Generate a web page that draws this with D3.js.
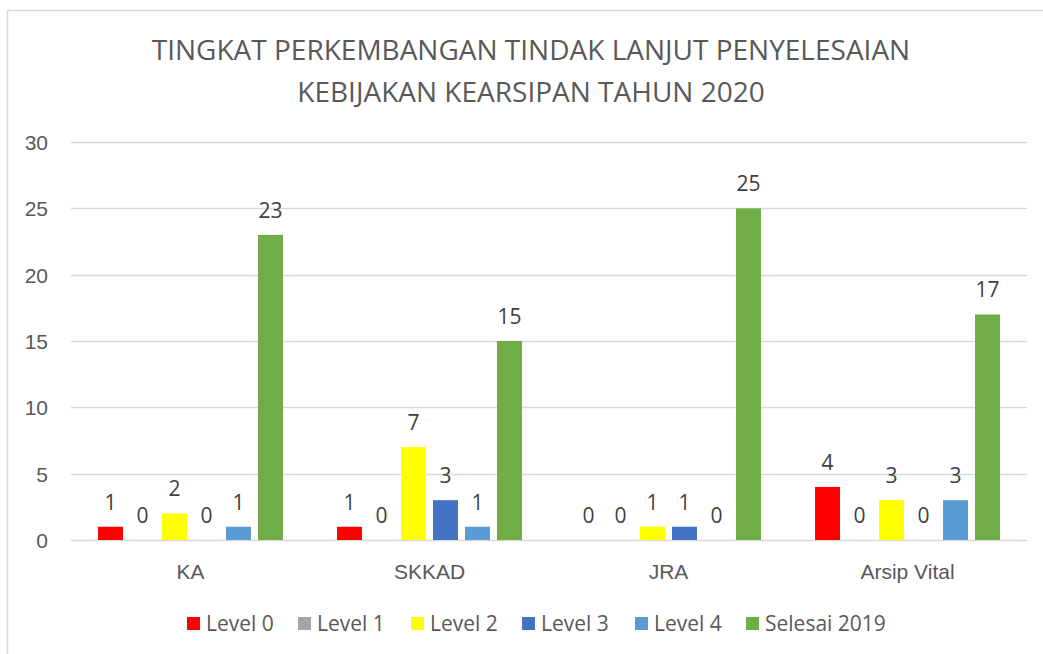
<!DOCTYPE html>
<html>
<head>
<meta charset="utf-8">
<script src="https://cdn.jsdelivr.net/npm/d3@7"></script>
<style>
	body { margin: 0; background: #fff; }
	svg { font-family: "Open Sans", "Noto Sans", sans-serif; }
</style>
</head>
<body>
<div id="chart"></div>
<script>
var categories = ["KA", "SKKAD", "JRA", "Arsip Vital"];
var series = ["Level 0", "Level 1", "Level 2", "Level 3", "Level 4", "Selesai 2019"];
var level0 = [1, 1, 0, 4];
var level1 = [0, 0, 0, 0];
var level2 = [2, 7, 1, 3];
var level3 = [0, 3, 1, 0];
var level4 = [1, 1, 0, 3];
var selesai2019 = [23, 15, 25, 17];
var yTicks = [0, 5, 10, 15, 20, 25, 30];
var colors = ["#FF0000", "#A5A5A5", "#FFFF00", "#4472C4", "#5B9BD5", "#70AD47"];
var titleLines = ["TINGKAT PERKEMBANGAN TINDAK LANJUT PENYELESAIAN", "KEBIJAKAN KEARSIPAN TAHUN 2020"];

var allValues = [level0, level1, level2, level3, level4, selesai2019];

window.onload = function() {
	main();
};

function main() {
	var W = 1043, H = 654;
	var svg = d3.select("#chart").append("svg")
		.attr("width", W)
		.attr("height", H);

	// chart frame (only left and top edges are in the picture)
	svg.append("rect")
		.attr("x", 7.5)
		.attr("y", 10.5)
		.attr("width", W + 20)
		.attr("height", H + 20)
		.attr("fill", "#fff")
		.attr("stroke", "#d9d9d9")
		.attr("stroke-width", 1.5);

	var left = 71, right = 1027, top = 142, bottom = 540;

	var y = d3.scaleLinear().domain([0, 30]).range([bottom, top]);
	var x0 = d3.scaleBand().domain(categories).range([left, right]);
	var x1 = d3.scaleBand().domain(series).range([0, x0.bandwidth()])
		.paddingInner(0.22).paddingOuter(0.845);

	// grid
	svg.append("g").selectAll("line")
		.data(yTicks)
		.enter().append("line")
		.attr("x1", left)
		.attr("x2", right)
		.attr("y1", function(d) { return Math.round(y(d)) + 0.5; })
		.attr("y2", function(d) { return Math.round(y(d)) + 0.5; })
		.attr("stroke", "#d9d9d9")
		.attr("stroke-width", 1.3);

	var yAxis = svg.append("g")
		.attr("transform", "translate(" + (left - 23) + ",0)")
		.call(d3.axisLeft(y).tickValues(yTicks).tickSize(0).tickPadding(0));
	yAxis.select(".domain").remove();
	yAxis.selectAll("text")
		.attr("fill", "#595959")
		.style("font-size", "21px")
		.attr("dy", "0.36em");

	var xAxis = svg.append("g")
		.attr("transform", "translate(0," + bottom + ")")
		.call(d3.axisBottom(x0).tickSize(0).tickPadding(0));
	xAxis.select(".domain").remove();
	xAxis.selectAll("text")
		.attr("fill", "#595959")
		.style("font-size", "21px")
		.attr("y", 39)
		.attr("dy", 0);

	// bars
	var groups = svg.append("g").selectAll("g")
		.data(categories)
		.enter().append("g")
		.attr("transform", function(d) { return "translate(" + x0(d) + ",0)"; });

	var cells = groups.selectAll("g")
		.data(function(c, ci) {
			return series.map(function(s, si) {
				return { s: s, si: si, v: allValues[si][ci] };
			});
		})
		.enter().append("g");

	cells.append("rect")
		.attr("x", function(d) { return x1(d.s); })
		.attr("width", x1.bandwidth())
		.attr("y", function(d) { return y(d.v); })
		.attr("height", function(d) { return bottom - y(d.v); })
		.attr("fill", function(d) { return colors[d.si]; });

	cells.append("text")
		.attr("x", function(d) { return x1(d.s) + x1.bandwidth() / 2; })
		.attr("y", function(d) { return y(d.v) - 17; })
		.attr("text-anchor", "middle")
		.attr("fill", "#404040")
		.style("font-size", "21px")
		.text(function(d) { return d.v; });

	// title
	svg.append("g").selectAll("text")
		.data(titleLines)
		.enter().append("text")
		.attr("x", 531)
		.attr("y", function(d, i) { return 60 + i * 42; })
		.attr("text-anchor", "middle")
		.attr("fill", "#595959")
		.style("font-size", "28px")
		.text(function(d) { return d; });

	// legend
	var legX = [187, 298, 411, 522, 635, 746];
	var leg = svg.append("g").selectAll("g")
		.data(series)
		.enter().append("g")
		.attr("transform", function(d, i) { return "translate(" + legX[i] + ",617)"; });
	leg.append("rect")
		.attr("width", 13)
		.attr("height", 13)
		.attr("fill", function(d, i) { return colors[i]; });
	leg.append("text")
		.attr("x", 19)
		.attr("y", 14)
		.attr("fill", "#595959")
		.style("font-size", "21px")
		.text(function(d) { return d; });
}
</script>
</body>
</html>
